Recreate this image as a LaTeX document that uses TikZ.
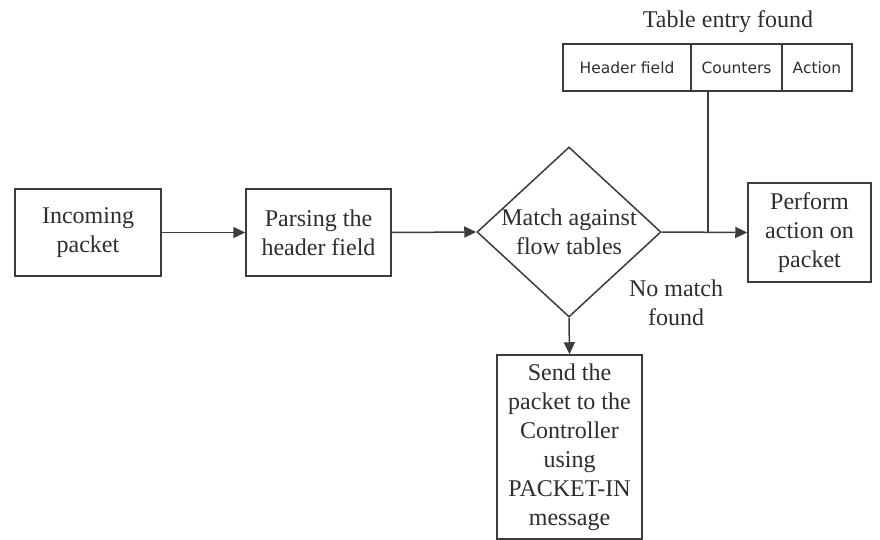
\documentclass[tikz,border=0pt]{standalone}
\usepackage{fontspec}
\setmainfont{Liberation Serif}
\newfontfamily\textserif{Liberation Serif}
\newfontfamily\cellfont{DejaVu Sans}
\usetikzlibrary{shapes.geometric,arrows.meta}
\definecolor{ink}{HTML}{2E2E2E}
\definecolor{edge}{HTML}{3C3C3C}
\tikzset{
  every node/.style={text=ink},
  big/.style={font=\textserif\fontsize{24}{29}\selectfont, align=center},
  box/.style={big, draw=edge, line width=1.5pt, inner sep=0pt, fill=white},
  cell/.style={draw=edge, line width=1.5pt, inner sep=0pt, minimum height=47pt,
               font=\cellfont\fontsize{15.5}{18}\selectfont},
  flow/.style={draw=edge, line width=1.5pt, -{Triangle[length=12pt,width=11pt]}},
  link/.style={draw=edge, line width=1.5pt}
}
\begin{document}
\begin{tikzpicture}[x=1pt,y=-1pt]
\useasboundingbox (0,0) rectangle (880,540);

% processing steps
\node[box, minimum width=146pt, minimum height=87pt] (inc) at (88,232.5) {Incoming\\packet};
\node[box, minimum width=145pt, minimum height=87pt] (parse) at (318.5,232.5) {Parsing the\\header field};
\node[diamond, draw=edge, line width=1.5pt, minimum width=184pt, minimum height=170pt,
      inner sep=0pt] (dia) at (569,232) {};
\node[big] (diatext) at (dia.center) {Match against\\flow tables};
\node[box, minimum width=123pt, minimum height=99pt] (perf) at (809.5,232.5) {Perform\\action on\\packet};
\node[box, minimum width=145pt, minimum height=184pt] (send) at (569.5,447)
  {Send the\\packet to the\\Controller\\using\\PACKET-IN\\message};

% flow table entry
\node[cell, minimum width=128pt] (c1) at (627,67.5) {Header field};
\node[cell, minimum width=91pt] (c2) at (736.5,67.5) {Counters};
\node[cell, minimum width=70pt] (c3) at (817,67.5) {Action};
\node[big] (tlabel) at (728,22) {Table entry found};

% branch labels
\node[big] (nomatch) at (676,303) {No match\\found};

% connectors
\draw[flow] (inc.east) -- (parse.west);
\draw[flow] (parse.east) -- (dia.west);
\draw[flow] (dia.east) -- (perf.west);
\draw[flow] (dia.south) -- (send.north);
\coordinate (j) at (708,232);
\draw[link] (c2.south -| j) -- (j);
\end{tikzpicture}
\end{document}
